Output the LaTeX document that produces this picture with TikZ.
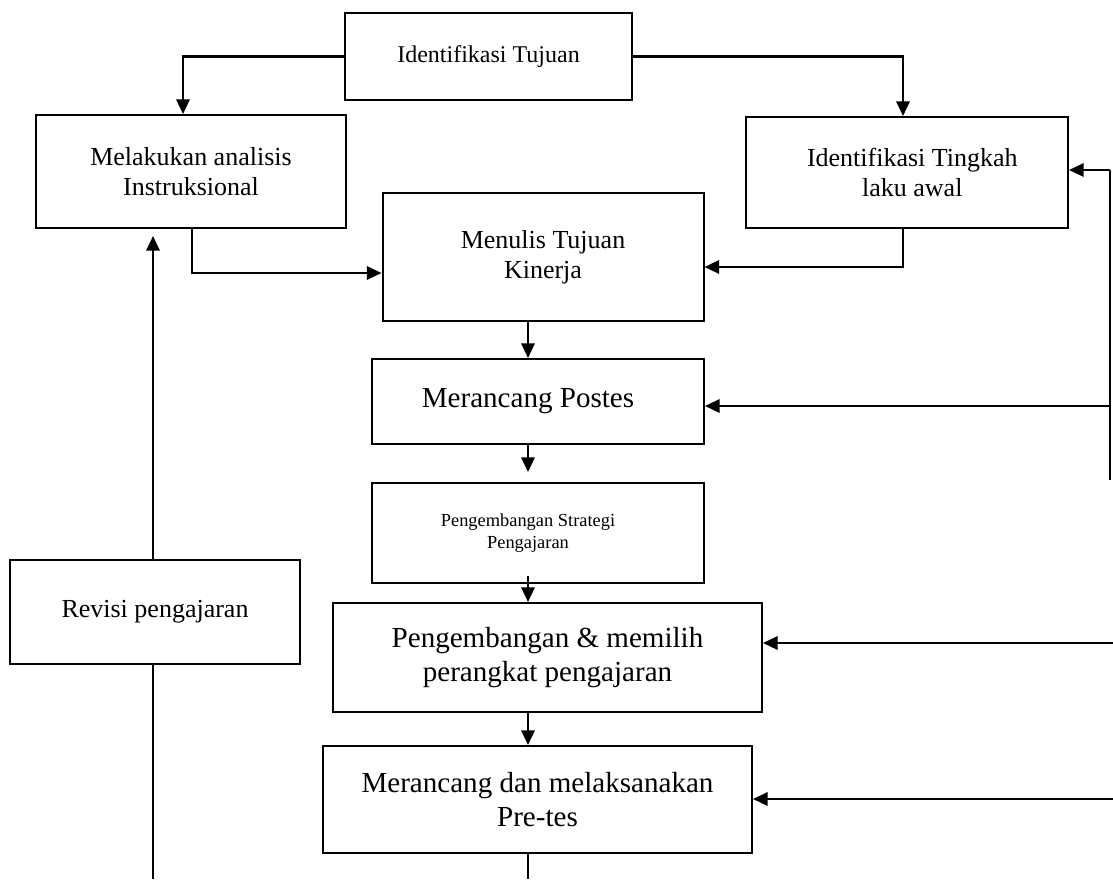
\documentclass[tikz,border=0pt]{standalone}
\usepackage{fontspec}
\setmainfont{Liberation Serif}
\usetikzlibrary{arrows.meta,calc}

\tikzset{
  flowbox/.style={draw, line width=1.5pt, rectangle, align=center, inner sep=0pt,
                  font=\fontsize{19.5}{22.4}\selectfont},
  bigtext/.style={font=\fontsize{21.8}{25}\selectfont},
  smalltext/.style={font=\fontsize{13.8}{15.9}\selectfont},
  toptext/.style={font=\fontsize{18}{20.7}\selectfont},
  conn/.style={line width=1.7pt},
  arr/.style={conn, -{Triangle[length=11pt,width=10pt]}}
}
% pull a centred line a little to the left
\newcommand{\pullleft}{\hspace*{-15pt}}

\begin{document}
\begin{tikzpicture}[x=0.75pt, y=-0.75pt]
  \useasboundingbox (0,0) rectangle (1113,879);

  % steps of the flow
  \node[flowbox, toptext, minimum width=287*0.75pt, minimum height=87*0.75pt]
       (tujuan) at (488.5,56.5) {Identifikasi Tujuan};
  \node[flowbox, minimum width=310*0.75pt, minimum height=113*0.75pt]
       (analisis) at (191,171.5) {Melakukan analisis\\Instruksional};
  \node[flowbox, minimum width=322*0.75pt, minimum height=111*0.75pt]
       (tingkah) at (907,172.5) {\hspace*{8pt}Identifikasi Tingkah\\\hspace*{8pt}laku awal};
  \node[flowbox, minimum width=321*0.75pt, minimum height=128*0.75pt]
       (menulis) at (543,257) {Menulis Tujuan\\Kinerja};
  \node[flowbox, bigtext, minimum width=332*0.75pt, minimum height=85*0.75pt]
       (postes) at (538,401.5) {\pullleft Merancang Postes};
  \node[flowbox, smalltext, minimum width=332*0.75pt, minimum height=100*0.75pt]
       (strategi) at (538,533) {\pullleft Pengembangan Strategi\\\pullleft Pengajaran};
  \node[flowbox, bigtext, minimum width=429*0.75pt, minimum height=109*0.75pt]
       (perangkat) at (547.5,657.5) {Pengembangan \& memilih\\perangkat pengajaran};
  \node[flowbox, bigtext, minimum width=429*0.75pt, minimum height=107*0.75pt]
       (pretes) at (537.5,799.5) {Merancang dan melaksanakan\\Pre-tes};
  \node[flowbox, minimum width=290*0.75pt, minimum height=104*0.75pt]
       (revisi) at (155,612) {Revisi pengajaran};

  % guide coordinates
  \coordinate (mx) at (528,0);
  \coordinate (rx) at (153,0);
  \coordinate (bot) at (0,879);
  \coordinate (fbtop) at (1110,170);
  \coordinate (fbend) at (1110,480);
  \coordinate (fbpost) at (1110,406);
  \coordinate (fbdev) at (1113,643);
  \coordinate (fbpre) at (1113,799);

  % branches from the goal
  \draw[arr] (tujuan.west) -| ($(analisis.north)+(-8,0)$);
  \draw[arr] (tujuan.east) -| ($(tingkah.north)+(-4,0)$);

  % into the performance objectives
  \draw[arr] ($(analisis.south)+(1,0)$) |- ($(menulis.west)+(0,16)$);
  \draw[arr] ($(tingkah.south)+(-4,0)$) |- ($(menulis.east)+(0,10)$);

  % main chain
  \draw[arr] (menulis.south -| mx) -- (postes.north -| mx);
  \draw[arr] (postes.south -| mx) -- ($(strategi.north -| mx)+(0,-10)$);
  \draw[arr] ($(strategi.south -| mx)+(0,-8)$) -- (perangkat.north -| mx);
  \draw[arr] (perangkat.south -| mx) -- (pretes.north -| mx);
  \draw[conn] (pretes.south -| mx) -- (mx |- bot);

  % revision loop
  \draw[arr] (revisi.north -| rx) -- ($(analisis.south -| rx)+(0,7)$);
  \draw[conn] (revisi.south -| rx) -- (rx |- bot);

  % feedback on the right
  \draw[conn] (fbtop) -- (fbend);
  \draw[arr] (fbtop) -- (tingkah.east |- fbtop);
  \draw[arr] (fbpost) -- (postes.east |- fbpost);
  \draw[arr] (fbdev) -- (perangkat.east |- fbdev);
  \draw[arr] (fbpre) -- (pretes.east |- fbpre);
\end{tikzpicture}
\end{document}
